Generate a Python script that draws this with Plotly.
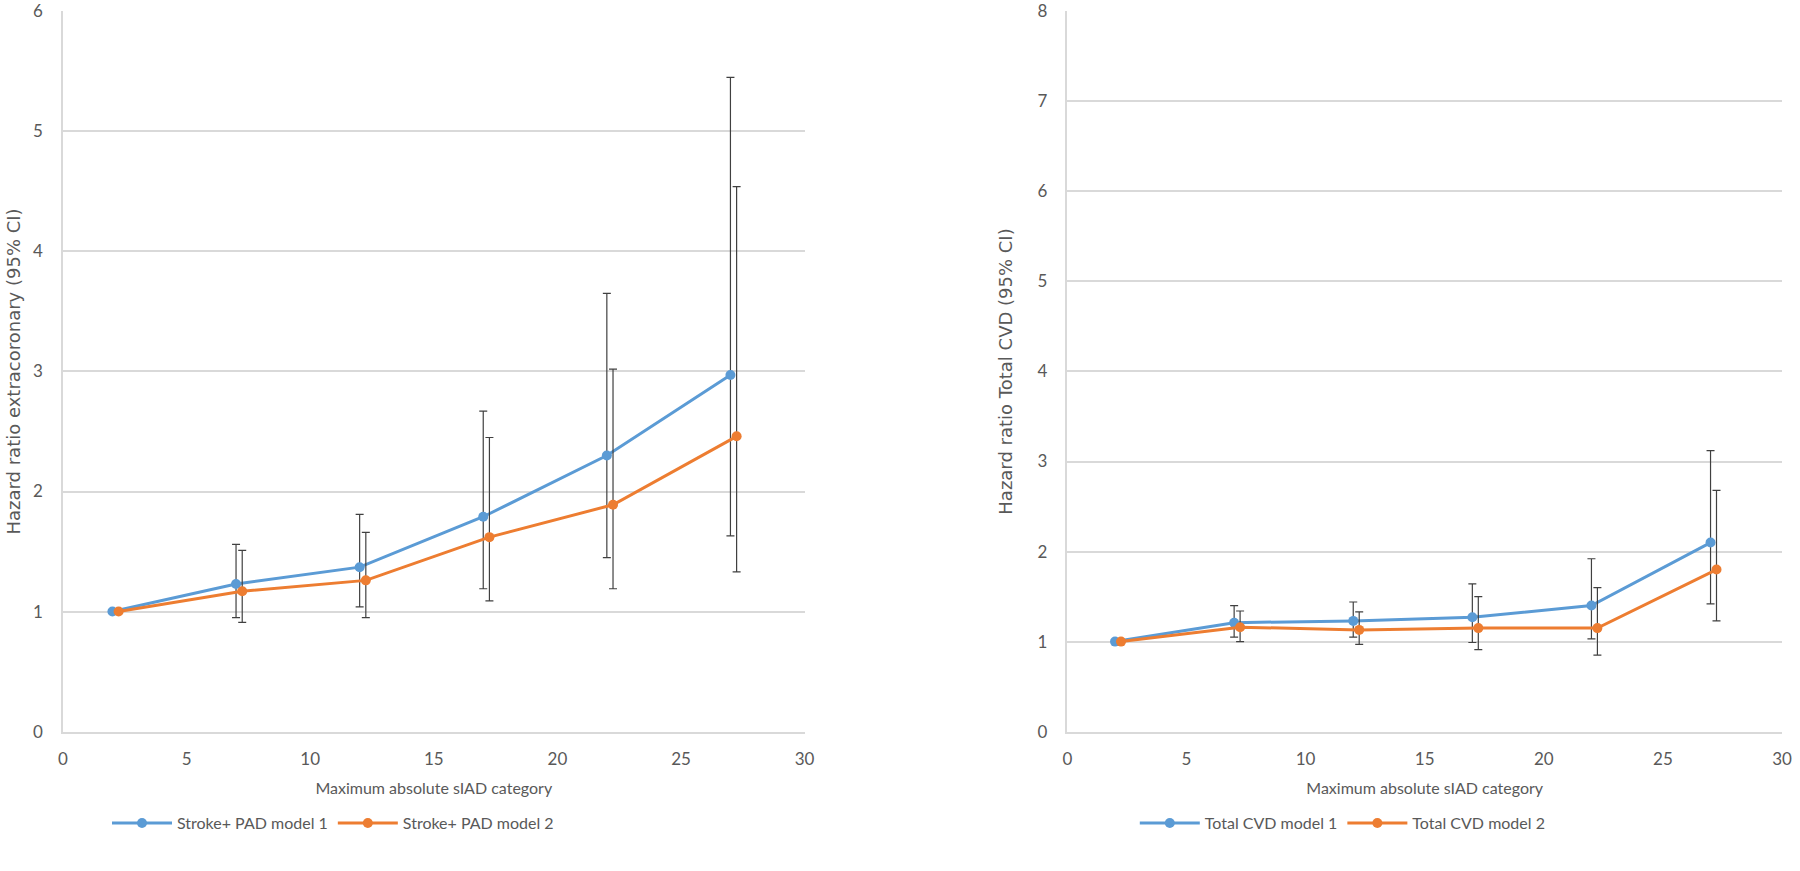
import plotly.graph_objects as go

# sIAD category positions (model 2 drawn slightly offset, as in the original)
x_m1 = [2, 7, 12, 17, 22, 27]
x_m2 = [2.25, 7.25, 12.25, 17.25, 22.25, 27.25]

# Stroke + PAD (extracoronary)
stroke_m1 = [1.0, 1.23, 1.37, 1.79, 2.30, 2.97]
stroke_m1_hi = [1.0, 1.56, 1.81, 2.67, 3.65, 5.45]
stroke_m1_lo = [1.0, 0.95, 1.04, 1.19, 1.45, 1.63]
stroke_m2 = [1.0, 1.17, 1.26, 1.62, 1.89, 2.46]
stroke_m2_hi = [1.0, 1.51, 1.66, 2.45, 3.02, 4.54]
stroke_m2_lo = [1.0, 0.91, 0.95, 1.09, 1.19, 1.33]

# Total CVD
cvd_m1 = [1.0, 1.21, 1.23, 1.27, 1.40, 2.10]
cvd_m1_hi = [1.0, 1.40, 1.44, 1.64, 1.92, 3.12]
cvd_m1_lo = [1.0, 1.05, 1.05, 0.99, 1.03, 1.42]
cvd_m2 = [1.0, 1.16, 1.13, 1.15, 1.15, 1.80]
cvd_m2_hi = [1.0, 1.34, 1.33, 1.50, 1.60, 2.68]
cvd_m2_lo = [1.0, 1.00, 0.97, 0.91, 0.85, 1.23]

BLUE = "#5B9BD5"
ORANGE = "#ED7D31"
TXT = "#595959"
GRID = "#D9D9D9"
FONT = "Lato"


def err(y, hi, lo):
    return dict(type="data", symmetric=False,
                array=[h - v for h, v in zip(hi, y)],
                arrayminus=[v - l for v, l in zip(y, lo)],
                color="#404040", thickness=1.2, width=4)


def trace(x, y, hi, lo, name, color, xa, ya, leg):
    return go.Scatter(x=x, y=y, name=name, mode="lines+markers",
                      line=dict(color=color, width=3),
                      marker=dict(color=color, size=10),
                      error_y=err(y, hi, lo),
                      xaxis=xa, yaxis=ya, legend=leg)


fig = go.Figure()
fig.add_trace(trace(x_m1, stroke_m1, stroke_m1_hi, stroke_m1_lo, "Stroke+ PAD model 1", BLUE, "x", "y", "legend"))
fig.add_trace(trace(x_m2, stroke_m2, stroke_m2_hi, stroke_m2_lo, "Stroke+ PAD model 2", ORANGE, "x", "y", "legend"))
fig.add_trace(trace(x_m1, cvd_m1, cvd_m1_hi, cvd_m1_lo, "Total CVD model 1", BLUE, "x2", "y2", "legend2"))
fig.add_trace(trace(x_m2, cvd_m2, cvd_m2_hi, cvd_m2_lo, "Total CVD model 2", ORANGE, "x2", "y2", "legend2"))

xcommon = dict(range=[0, 30], tick0=0, dtick=5, showgrid=False, zeroline=False,
               showline=True, linecolor=GRID, linewidth=1.5, ticks="", automargin=False,
               ticklabelstandoff=11,
               tickfont=dict(family=FONT, size=17, color=TXT),
               title=dict(text="Maximum absolute sIAD category", standoff=15,
                          font=dict(family=FONT, size=16, color=TXT)))
ycommon = dict(dtick=1, showgrid=True, gridcolor=GRID, gridwidth=1.5, zeroline=False,
               showline=True, linecolor=GRID, linewidth=1.5, ticks="", automargin=False,
               ticklabelstandoff=15,
               tickfont=dict(family=FONT, size=17, color=TXT))

fig.update_layout(
    width=1800, height=871,
    margin=dict(l=0, r=0, t=0, b=0),
    paper_bgcolor="white", plot_bgcolor="white",
    xaxis=dict(domain=[0.035, 0.447], anchor="y", **xcommon),
    yaxis=dict(domain=[0.16, 0.987], anchor="x", range=[0, 6],
               title=dict(text="Hazard ratio extracoronary (95% CI)", standoff=8,
                          font=dict(family="DejaVu Sans", size=18, color=TXT)),
               **ycommon),
    xaxis2=dict(domain=[0.593, 0.99], anchor="y2", **xcommon),
    yaxis2=dict(domain=[0.16, 0.987], anchor="x2", range=[0, 8],
                title=dict(text="Hazard ratio Total CVD (95% CI)", standoff=20,
                           font=dict(family="DejaVu Sans", size=18, color=TXT)),
                **ycommon),
    legend=dict(orientation="h", x=0.185, xanchor="center", y=0.055, yanchor="middle",
                font=dict(family=FONT, size=16, color=TXT), itemwidth=60),
    legend2=dict(orientation="h", x=0.746, xanchor="center", y=0.055, yanchor="middle",
                 font=dict(family=FONT, size=16, color=TXT), itemwidth=60),
)

# drop the default page margin so the figure sits at the window's corner
fig.write_html("out.html", config={"displayModeBar": False},
               post_script="document.body.style.margin='0';")
